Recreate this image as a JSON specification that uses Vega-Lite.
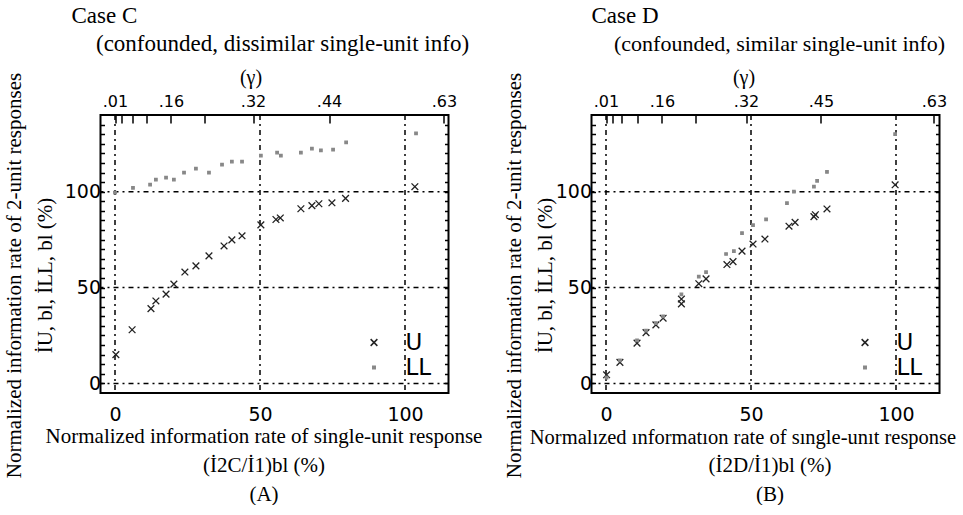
{
  "$schema": "https://vega.github.io/schema/vega-lite/v6.json",
  "background": "white",
  "padding": {"left": 2.5, "top": 3, "right": 0, "bottom": 0},
  "spacing": 143,
  "bounds": "flush",
  "config": {
    "view": {"stroke": "black", "strokeWidth": 2},
    "axis": {
      "domain": false, "grid": false,
      "labelFont": "DejaVu Sans", "labelFontSize": 19, "labelColor": "black",
      "tickColor": "black", "tickWidth": 1.5,
      "titleFont": "Liberation Serif", "titleFontWeight": "normal", "titleColor": "black", "titleFontSize": 21
    },
    "title": {
      "font": "Liberation Serif", "fontSize": 23, "fontWeight": "normal", "color": "black",
      "anchor": "start", "frame": "group", "offset": 4.5
    },
    "legend": {"labelFont": "DejaVu Sans", "labelFontSize": 23, "labelColor": "black"}
  },
  "resolve": {"scale": {"fill": "independent", "stroke": "independent", "shape": "independent", "size": "independent"}},
  "datasets": {
    "grid": [{"v": 0}, {"v": 50}, {"v": 100}],
    "caseC": [
      {"s": "U", "x": 0.3, "y": 15}, {"s": "U", "x": 5.9, "y": 28}, {"s": "U", "x": 12.4, "y": 39},
      {"s": "U", "x": 14.1, "y": 43}, {"s": "U", "x": 17.6, "y": 46.6}, {"s": "U", "x": 20.3, "y": 51.8},
      {"s": "U", "x": 24.1, "y": 58.1}, {"s": "U", "x": 27.9, "y": 61.3}, {"s": "U", "x": 32.4, "y": 66.5},
      {"s": "U", "x": 37.6, "y": 71.7}, {"s": "U", "x": 40.3, "y": 74.9}, {"s": "U", "x": 43.8, "y": 77},
      {"s": "U", "x": 50.3, "y": 82.7}, {"s": "U", "x": 55.5, "y": 85.5}, {"s": "U", "x": 57, "y": 86.3},
      {"s": "U", "x": 64.1, "y": 91.1}, {"s": "U", "x": 67.9, "y": 92.7}, {"s": "U", "x": 70.3, "y": 93.7},
      {"s": "U", "x": 74.8, "y": 94.2}, {"s": "U", "x": 79.5, "y": 96.5}, {"s": "U", "x": 103.4, "y": 102.6},
      {"s": "LL", "x": 0, "y": 99.5}, {"s": "LL", "x": 6.2, "y": 102}, {"s": "LL", "x": 12.1, "y": 103.7},
      {"s": "LL", "x": 14.1, "y": 106.3}, {"s": "LL", "x": 17.6, "y": 107.3}, {"s": "LL", "x": 20.3, "y": 106.3},
      {"s": "LL", "x": 23.8, "y": 110}, {"s": "LL", "x": 27.9, "y": 112}, {"s": "LL", "x": 32.4, "y": 110},
      {"s": "LL", "x": 36.9, "y": 114.1}, {"s": "LL", "x": 40.3, "y": 115.7}, {"s": "LL", "x": 43.8, "y": 115.7},
      {"s": "LL", "x": 50.3, "y": 118.8}, {"s": "LL", "x": 55.9, "y": 120.4}, {"s": "LL", "x": 57.2, "y": 118.8},
      {"s": "LL", "x": 64.1, "y": 120.4}, {"s": "LL", "x": 67.9, "y": 122.5}, {"s": "LL", "x": 71, "y": 121.5},
      {"s": "LL", "x": 75.2, "y": 122}, {"s": "LL", "x": 79.7, "y": 125.7}, {"s": "LL", "x": 103.8, "y": 130.4}
    ],
    "caseD": [
      {"s": "U", "x": 0.2, "y": 4.5}, {"s": "U", "x": 4.8, "y": 11}, {"s": "U", "x": 10.7, "y": 21},
      {"s": "U", "x": 13.8, "y": 26.5}, {"s": "U", "x": 17.2, "y": 30.5}, {"s": "U", "x": 19.7, "y": 34},
      {"s": "U", "x": 26, "y": 41.5}, {"s": "U", "x": 26, "y": 44}, {"s": "U", "x": 32, "y": 52},
      {"s": "U", "x": 34.5, "y": 54.5}, {"s": "U", "x": 41.7, "y": 62}, {"s": "U", "x": 43.8, "y": 63.5},
      {"s": "U", "x": 46.9, "y": 69}, {"s": "U", "x": 50.7, "y": 72.7}, {"s": "U", "x": 54.8, "y": 75.3},
      {"s": "U", "x": 63.1, "y": 82}, {"s": "U", "x": 65.2, "y": 84}, {"s": "U", "x": 71.7, "y": 87},
      {"s": "U", "x": 72.2, "y": 88}, {"s": "U", "x": 76.2, "y": 91}, {"s": "U", "x": 99.7, "y": 103.6},
      {"s": "LL", "x": 0.2, "y": 3}, {"s": "LL", "x": 4.8, "y": 12}, {"s": "LL", "x": 10.7, "y": 22.5},
      {"s": "LL", "x": 13.8, "y": 27.5}, {"s": "LL", "x": 17.2, "y": 31.5}, {"s": "LL", "x": 19.7, "y": 35},
      {"s": "LL", "x": 26, "y": 46.5}, {"s": "LL", "x": 32, "y": 55.7}, {"s": "LL", "x": 34.5, "y": 58},
      {"s": "LL", "x": 41.4, "y": 67.5}, {"s": "LL", "x": 44.1, "y": 69}, {"s": "LL", "x": 46.9, "y": 78.4},
      {"s": "LL", "x": 50.7, "y": 82.5}, {"s": "LL", "x": 55.2, "y": 85.6}, {"s": "LL", "x": 62.4, "y": 94},
      {"s": "LL", "x": 64.8, "y": 100}, {"s": "LL", "x": 71.7, "y": 102.6}, {"s": "LL", "x": 72.8, "y": 105.7},
      {"s": "LL", "x": 76.2, "y": 110.3}, {"s": "LL", "x": 99.7, "y": 130}
    ]
  },
  "hconcat": [
    {
      "width": 348, "height": 278,
      "title": {"text": "Case C", "dx": -29},
      "resolve": {"axis": {"x": "independent", "y": "independent"}},
      "layer": [
        {
          "data": {"name": "grid"},
          "mark": {"type": "rule", "strokeDash": [5, 4, 2, 4], "color": "black", "strokeWidth": 1.5},
          "encoding": {
            "x": {"field": "v", "type": "quantitative",
              "scale": {"domain": [-5, 115], "nice": false, "zero": false},
              "axis": {"orient": "top", "values": [0, 2.4, 5.9, 10.7, 19.3, 30.7, 47.6, 73.8, 113.4],
                "labelExpr": "datum.value == 0 ? '.01' : datum.value == 19.3 ? '.16' : datum.value == 47.6 ? '.32' : datum.value == 73.8 ? '.44' : datum.value == 113.4 ? '.63' : ''",
                "labelFontSize": 16, "tickSize": -8, "labelPadding": 14, "title": "(γ)", "titleX": 150, "titleFontSize": 20, "titlePadding": 6}}
          }
        },
        {
          "data": {"name": "grid"},
          "mark": {"type": "rule", "strokeDash": [5, 4, 2, 4], "color": "black", "strokeWidth": 1.5},
          "encoding": {
            "y": {"field": "v", "type": "quantitative",
              "scale": {"domain": [-5, 140], "nice": false, "zero": false},
              "axis": {"orient": "right", "values": [0, 5, 10, 15, 20, 25, 30, 35, 40, 45, 50, 55, 60, 65, 70, 75, 80, 85, 90, 95, 100, 105, 110, 115, 120, 125, 130, 135],
                "labels": false, "tickSize": -4,
                "title": "(confounded, dissimilar single-unit info)",
                "titleAngle": 0, "titleAlign": "left", "titleBaseline": "middle", "titleFontSize": 23,
                "titleX": -353, "titleY": -72}}
          }
        },
        {
          "data": {"name": "caseC"},
          "mark": {"type": "point", "filled": true, "strokeWidth": 1.3, "opacity": 1},
          "encoding": {
            "x": {"field": "x", "type": "quantitative",
              "axis": {"orient": "bottom", "values": [0, 50, 100], "ticks": false, "labelPadding": 12,
                "title": ["Normalized information rate of single-unit response", "(İ2C/İ1)bl (%)", "(A)"],
                "titleX": 163, "titleLineHeight": 29, "titlePadding": 1}},
            "y": {"field": "y", "type": "quantitative",
              "axis": {"orient": "left", "values": [0, 5, 10, 15, 20, 25, 30, 35, 40, 45, 50, 55, 60, 65, 70, 75, 80, 85, 90, 95, 100, 105, 110, 115, 120, 125, 130, 135],
                "labelExpr": "datum.value == 0 || datum.value == 50 || datum.value == 100 ? datum.label : ''",
                "tickSize": -4, "labelPadding": 4,
                "title": ["Normalized information rate of 2-unit responses", "İU, bl, İLL, bl (%)"],
                "titleLineHeight": 31, "titlePadding": 8.5, "titleY": 160}},
            "shape": {"field": "s", "type": "nominal", "scale": {"domain": ["U", "LL"], "range": ["M-1,-1L1,1M-1,1L1,-1", "square"]},
              "legend": {"orient": "none", "legendX": 262, "legendY": 216, "title": null, "labelOffset": 20, "rowPadding": 1}},
            "fill": {"field": "s", "type": "nominal", "scale": {"domain": ["U", "LL"], "range": ["#222222", "#888888"]},
              "legend": {"orient": "none", "legendX": 262, "legendY": 216, "title": null, "labelOffset": 20, "rowPadding": 1}},
            "stroke": {"field": "s", "type": "nominal", "scale": {"domain": ["U", "LL"], "range": ["#222222", "#888888"]},
              "legend": {"orient": "none", "legendX": 262, "legendY": 216, "title": null, "labelOffset": 20, "rowPadding": 1}},
            "size": {"field": "s", "type": "nominal", "scale": {"domain": ["U", "LL"], "range": [45, 6]},
              "legend": {"orient": "none", "legendX": 262, "legendY": 216, "title": null, "labelOffset": 20, "rowPadding": 1}}
          }
        }
      ]
    },
    {
      "width": 348, "height": 278,
      "title": {"text": "Case D", "dx": 0},
      "resolve": {"axis": {"x": "independent", "y": "independent"}},
      "layer": [
        {
          "data": {"name": "grid"},
          "mark": {"type": "rule", "strokeDash": [5, 4, 2, 4], "color": "black", "strokeWidth": 1.5},
          "encoding": {
            "x": {"field": "v", "type": "quantitative",
              "scale": {"domain": [-5, 115], "nice": false, "zero": false},
              "axis": {"orient": "top", "values": [0, 2.4, 5.5, 10.7, 19.3, 30.7, 48.3, 74.1, 113.1],
                "labelExpr": "datum.value == 0 ? '.01' : datum.value == 19.3 ? '.16' : datum.value == 48.3 ? '.32' : datum.value == 74.1 ? '.45' : datum.value == 113.1 ? '.63' : ''",
                "labelFontSize": 16, "tickSize": -8, "labelPadding": 14, "title": "(γ)", "titleX": 152, "titleFontSize": 20, "titlePadding": 6}}
          }
        },
        {
          "data": {"name": "grid"},
          "mark": {"type": "rule", "strokeDash": [5, 4, 2, 4], "color": "black", "strokeWidth": 1.5},
          "encoding": {
            "y": {"field": "v", "type": "quantitative",
              "scale": {"domain": [-5, 140], "nice": false, "zero": false},
              "axis": {"orient": "right", "values": [0, 5, 10, 15, 20, 25, 30, 35, 40, 45, 50, 55, 60, 65, 70, 75, 80, 85, 90, 95, 100, 105, 110, 115, 120, 125, 130, 135],
                "labels": false, "tickSize": -4,
                "title": "(confounded, similar single-unit info)",
                "titleAngle": 0, "titleAlign": "left", "titleBaseline": "middle", "titleFontSize": 22,
                "titleX": -326, "titleY": -72}}
          }
        },
        {
          "data": {"name": "grid"},
          "mark": {"type": "rule", "strokeOpacity": 0},
          "encoding": {
            "x": {"field": "v", "type": "quantitative",
              "axis": {"orient": "bottom", "labels": false, "ticks": false,
                "title": "Normalızed ınformatıon rate of sıngle-unıt response",
                "titleFontSize": 20.5, "titleX": 151, "titleY": 44, "titleBaseline": "middle", "titleAlign": "center"}}
          }
        },
        {
          "data": {"name": "caseD"},
          "mark": {"type": "point", "filled": true, "strokeWidth": 1.3, "opacity": 1},
          "encoding": {
            "x": {"field": "x", "type": "quantitative",
              "axis": {"orient": "bottom", "values": [0, 50, 100], "ticks": false, "labelPadding": 12,
                "title": ["(İ2D/İ1)bl (%)", "(B)"],
                "titleX": 178, "titleLineHeight": 29, "titlePadding": 30}},
            "y": {"field": "y", "type": "quantitative",
              "axis": {"orient": "left", "values": [0, 5, 10, 15, 20, 25, 30, 35, 40, 45, 50, 55, 60, 65, 70, 75, 80, 85, 90, 95, 100, 105, 110, 115, 120, 125, 130, 135],
                "labelExpr": "datum.value == 0 || datum.value == 50 || datum.value == 100 ? datum.label : ''",
                "tickSize": -4, "labelPadding": 4,
                "title": ["Normalized information rate of 2-unit responses", "İU, bl, İLL, bl (%)"],
                "titleLineHeight": 31, "titlePadding": 0, "titleY": 160}},
            "shape": {"field": "s", "type": "nominal", "scale": {"domain": ["U", "LL"], "range": ["M-1,-1L1,1M-1,1L1,-1", "square"]},
              "legend": {"orient": "none", "legendX": 262, "legendY": 216, "title": null, "labelOffset": 20, "rowPadding": 1}},
            "fill": {"field": "s", "type": "nominal", "scale": {"domain": ["U", "LL"], "range": ["#222222", "#888888"]},
              "legend": {"orient": "none", "legendX": 262, "legendY": 216, "title": null, "labelOffset": 20, "rowPadding": 1}},
            "stroke": {"field": "s", "type": "nominal", "scale": {"domain": ["U", "LL"], "range": ["#222222", "#888888"]},
              "legend": {"orient": "none", "legendX": 262, "legendY": 216, "title": null, "labelOffset": 20, "rowPadding": 1}},
            "size": {"field": "s", "type": "nominal", "scale": {"domain": ["U", "LL"], "range": [45, 6]},
              "legend": {"orient": "none", "legendX": 262, "legendY": 216, "title": null, "labelOffset": 20, "rowPadding": 1}}
          }
        }
      ]
    }
  ]
}
